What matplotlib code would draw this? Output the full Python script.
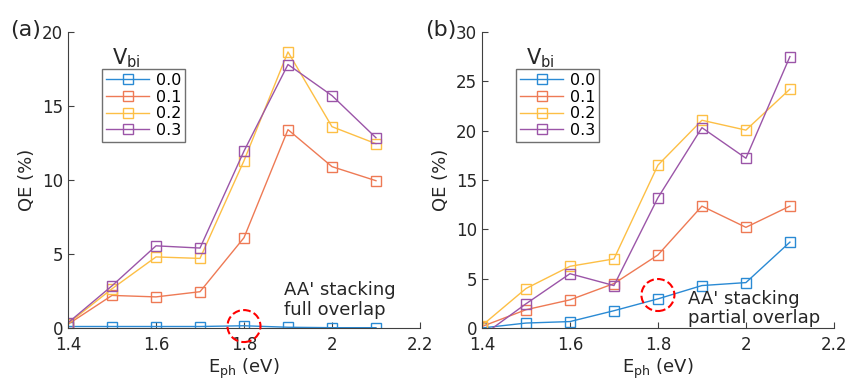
import matplotlib
matplotlib.use("Agg")
import matplotlib.pyplot as plt
from matplotlib.patches import Ellipse
from matplotlib.ticker import FormatStrFormatter

# Energía de fotón (eV)
e_ph = [1.4, 1.5, 1.6, 1.7, 1.8, 1.9, 2.0, 2.1]
v_bi = ["0.0", "0.1", "0.2", "0.3"]

# (a) AA' full overlap
qe_a_00 = [0.1, 0.1, 0.1, 0.1, 0.15, 0.05, 0.02, 0.02]
qe_a_01 = [0.25, 2.2, 2.1, 2.45, 6.1, 13.4, 10.9, 9.95]
qe_a_02 = [0.3, 2.65, 4.8, 4.7, 11.3, 18.65, 13.6, 12.45]
qe_a_03 = [0.35, 2.85, 5.55, 5.4, 11.95, 17.8, 15.7, 12.85]

# (b) AA' partial overlap
qe_b_00 = [0.0, 0.5, 0.65, 1.75, 2.95, 4.3, 4.6, 8.7]
qe_b_01 = [0.15, 1.85, 2.85, 4.5, 7.4, 12.35, 10.2, 12.35]
qe_b_02 = [0.25, 4.0, 6.25, 7.0, 16.5, 21.05, 20.05, 24.2]
qe_b_03 = [-0.8, 2.45, 5.5, 4.3, 13.2, 20.3, 17.2, 27.5]

colors = ['#2a8ad4', '#ee7a55', '#fdbf45', '#9b55a8']
axis_col = '#404040'

fig = plt.figure(figsize=(8.46, 3.82), dpi=100)
ax_a = fig.add_axes([0.0804, 0.1414, 0.416, 0.775])
ax_b = fig.add_axes([0.5697, 0.1414, 0.416, 0.775])


def draw_panel(ax, series, ymax, text, text_x, text_y, circle_y, circle_h):
    for vals, lab, c in zip(series, v_bi, colors):
        ax.plot(e_ph, vals, '-s', color=c, lw=1.0, ms=7, mfc='none',
                mew=1.0, label=lab)
    ax.set_xlim(1.4, 2.2)
    ax.set_ylim(0, ymax)
    ax.set_xticks([1.4, 1.6, 1.8, 2.0, 2.2])
    ax.xaxis.set_major_formatter(FormatStrFormatter('%g'))
    ax.set_yticks(range(0, ymax + 1, 5))
    for s in ['top', 'right']:
        ax.spines[s].set_visible(False)
    for s in ['left', 'bottom']:
        ax.spines[s].set_color(axis_col)
        ax.spines[s].set_linewidth(0.8)
    ax.tick_params(direction='in', length=4, labelsize=12,
                   colors=axis_col, labelcolor='#262626')
    ax.tick_params(axis='x', pad=6)
    ax.set_xlabel("E$_{\\mathregular{ph}}$ (eV)", fontsize=13, color='#262626',
                  labelpad=2)
    ax.set_ylabel("QE (%)", fontsize=13, color='#262626', labelpad=4)
    leg = ax.legend(loc='upper left', bbox_to_anchor=(0.097, 0.875),
                    borderaxespad=0, fontsize=11.5, handlelength=2.7,
                    labelspacing=0.1, handletextpad=0.4, borderpad=0.25,
                    fancybox=False, framealpha=1, edgecolor='#707070')
    leg.get_frame().set_linewidth(1.0)
    ax.text(0.125, 0.91, "V$_{\\mathregular{bi}}$", transform=ax.transAxes,
            fontsize=15, ha='left', va='center', color='#262626')
    ax.add_patch(Ellipse((1.8, circle_y), 0.075, circle_h, fill=False,
                         ec='red', ls='--', lw=1.5, clip_on=False, zorder=5))
    ax.text(text_x, text_y, text, fontsize=13, ha='left', va='center',
            color='#262626', linespacing=1.1)


draw_panel(ax_a, [qe_a_00, qe_a_01, qe_a_02, qe_a_03], 20,
           "AA' stacking\nfull overlap", 1.89, 1.9, 0.13, 2.16)
draw_panel(ax_b, [qe_b_00, qe_b_01, qe_b_02, qe_b_03], 30,
           "AA' stacking\npartial overlap", 1.868, 1.95, 3.34, 3.24)

fig.text(0.012, 0.905, "(a)", fontsize=16, color='#262626')
fig.text(0.503, 0.905, "(b)", fontsize=16, color='#262626')

fig.savefig("out.png", dpi=100)
